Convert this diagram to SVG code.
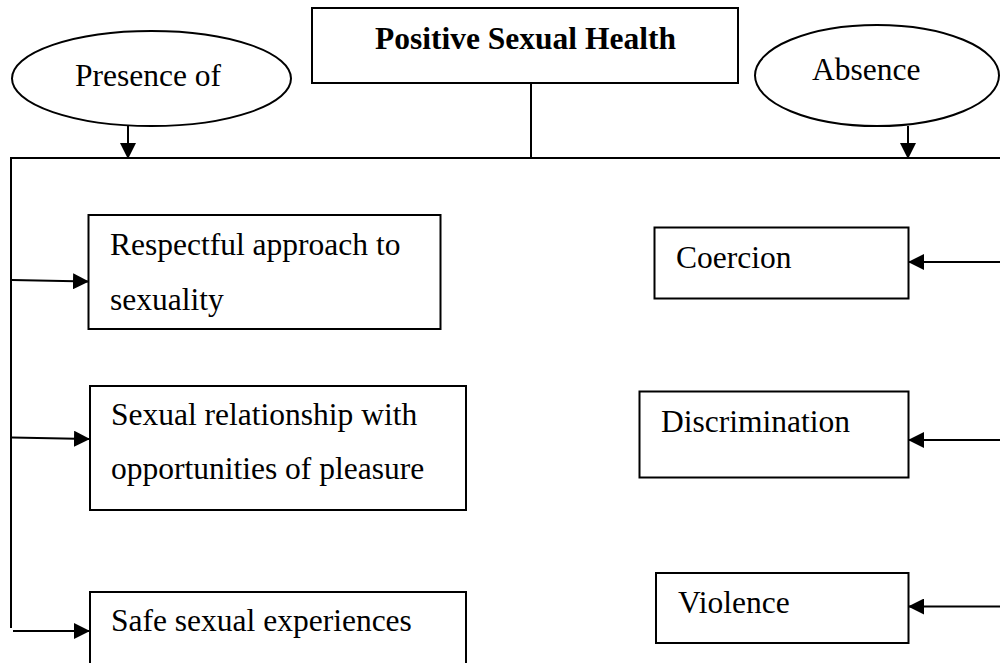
<svg xmlns="http://www.w3.org/2000/svg" width="1000" height="663" viewBox="0 0 1000 663">
<style>
.box{fill:#fff;stroke:#000;stroke-width:2}
.ln{fill:none;stroke:#000;stroke-width:2}
.t{font-family:"Liberation Serif","Times New Roman",serif;font-size:31.5px;fill:#000}
.b{font-weight:bold}
</style>
<defs>
<marker id="ah" markerWidth="8" markerHeight="8" refX="7.5" refY="4" orient="auto" markerUnits="strokeWidth">
<path d="M0,0 L8,4 L0,8 Z" fill="#000"/>
</marker>
</defs>
<rect width="1000" height="663" fill="#fff"/>
<g id="connectors">
<line class="ln" x1="11" y1="158" x2="1000" y2="158"/>
<line class="ln" x1="11" y1="157" x2="11" y2="628"/>
<line class="ln" x1="531" y1="83" x2="531" y2="158"/>
<line class="ln" x1="128" y1="126" x2="128" y2="158" marker-end="url(#ah)"/>
<line class="ln" x1="908" y1="126" x2="908" y2="158" marker-end="url(#ah)"/>
<line class="ln" x1="12" y1="280" x2="88" y2="281.5" marker-end="url(#ah)"/>
<line class="ln" x1="12" y1="437.5" x2="89" y2="439" marker-end="url(#ah)"/>
<line class="ln" x1="13" y1="631" x2="89" y2="631" marker-end="url(#ah)"/>
<line class="ln" x1="1000" y1="262" x2="909" y2="262" marker-end="url(#ah)"/>
<line class="ln" x1="1000" y1="440" x2="909" y2="440" marker-end="url(#ah)"/>
<line class="ln" x1="1000" y1="606.5" x2="909" y2="606.5" marker-end="url(#ah)"/>
</g>
<g id="title">
<rect class="box" x="312" y="8" width="426" height="75"/>
<text class="t b" x="375" y="49">Positive Sexual Health</text>
</g>
<g id="presence">
<ellipse class="box" cx="151.5" cy="78.5" rx="139.5" ry="47.5"/>
<text class="t" x="75" y="86">Presence of</text>
</g>
<g id="absence">
<ellipse class="box" cx="877" cy="75.5" rx="122" ry="50.5"/>
<text class="t" x="812" y="80">Absence</text>
</g>
<g id="respectful">
<rect class="box" x="88.5" y="215" width="352" height="114"/>
<text class="t" x="110" y="255">Respectful approach to</text>
<text class="t" x="110" y="310">sexuality</text>
</g>
<g id="relationship">
<rect class="box" x="90" y="386" width="376" height="124"/>
<text class="t" x="111" y="425">Sexual relationship with</text>
<text class="t" x="111" y="479">opportunities of pleasure</text>
</g>
<g id="safe">
<rect class="box" x="90" y="592" width="376" height="90"/>
<text class="t" x="111" y="631">Safe sexual experiences</text>
</g>
<g id="coercion">
<rect class="box" x="654.5" y="227.5" width="254" height="71"/>
<text class="t" x="676" y="268">Coercion</text>
</g>
<g id="discrimination">
<rect class="box" x="639.5" y="391.5" width="269" height="86"/>
<text class="t" x="661" y="431.5">Discrimination</text>
</g>
<g id="violence">
<rect class="box" x="656" y="573" width="252.5" height="70"/>
<text class="t" x="678" y="612.5">Violence</text>
</g>
</svg>
